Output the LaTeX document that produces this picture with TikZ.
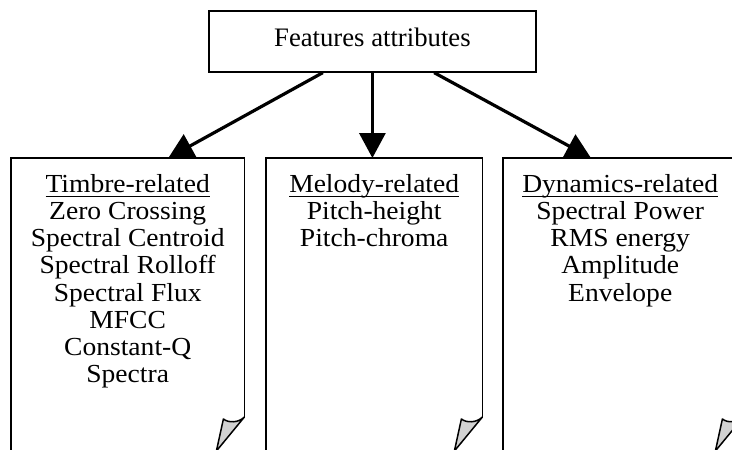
\documentclass[tikz,border=0pt]{standalone}
\usepackage{fontspec}
\setmainfont{Liberation Serif}
\newfontfamily\boxfont[FakeStretch=1.06]{Liberation Serif}
\usetikzlibrary{arrows.meta,calc}
% underline with a fixed offset below the baseline
\newcommand\ulx[1]{\leavevmode\setbox0\hbox{#1}\rlap{\rule[-4.6pt]{\wd0}{1.3pt}}\box0}
% page outline with a curled lower right corner
\newcommand\curlpage[1]{%
  \draw[boxline] (#1.south west) -- (#1.north west) -- (#1.north east)
    -- ($(#1.north east)+(0,259)$) coordinate (#1-f);
  \filldraw[curl] (#1-f) .. controls ($(#1-f)+(-6,6)$) and ($(#1-f)+(-16,6)$)
    .. ($(#1-f)+(-21,2)$) -- ($(#1-f)+(-28,34)$) -- cycle;
}
\begin{document}
\begin{tikzpicture}[x=1pt,y=-1pt,
  boxline/.style={line width=1.7pt, line join=miter},
  curl/.style={line width=1.5pt, fill=black!18, line join=round},
  arr/.style={line width=3.2pt, -{Triangle[length=25pt,width=26pt]}},
  pagebox/.style={rectangle, draw=none, anchor=north west, minimum height=330pt, inner sep=0pt},
  boxtext/.style={font=\boxfont\fontsize{26}{27.2}\selectfont, anchor=north, align=center, inner sep=0pt}]
  \useasboundingbox (0,0) rectangle (732,450);
  \fill[white] (0,0) rectangle (732,450);
  \clip (0,0) rectangle (732,450);

  % heading box
  \node[font=\fontsize{26.7}{29}\selectfont, draw, line width=1.8pt, minimum width=326.7pt,
        minimum height=60.7pt, inner sep=0pt, text height=18pt, text depth=7pt]
        (top) at (372.4,41.4) {Features attributes};

  % the three pages
  \node[pagebox, minimum width=233pt] (timbre) at (11,158) {};
  \node[pagebox, minimum width=216pt] (melody) at (266,158) {};
  \node[pagebox, minimum width=240pt] (dyn) at (503,158) {};
  \curlpage{timbre}
  \curlpage{melody}
  \curlpage{dyn}

  \node[boxtext] (timbretext) at ($(timbre.north)+(0,14)$)
    {\rule{0pt}{20pt}\ulx{Timbre-related}\\Zero Crossing\\Spectral Centroid\\Spectral Rolloff\\Spectral Flux\\MFCC\\Constant-Q\\Spectra};
  \node[boxtext] (melodytext) at ($(melody.north)+(0,14)$)
    {\rule{0pt}{20pt}\ulx{Melody-related}\\Pitch-height\\Pitch-chroma};
  \node[boxtext] (dyntext) at ($(dyn.north)+(-3,14)$)
    {\rule{0pt}{20pt}\ulx{Dynamics-related}\\Spectral Power\\RMS energy\\Amplitude\\Envelope};

  % arrows
  \draw[arr] ($(top.south west)!0.349!(top.south east)$) -- ($(timbre.north west)!0.674!(timbre.north east)$);
  \draw[arr] (top.south) -- (top.south |- melody.north);
  \draw[arr] ($(top.south west)!0.688!(top.south east)$) -- ($(dyn.north west)!0.366!(dyn.north east)$);
\end{tikzpicture}
\end{document}
